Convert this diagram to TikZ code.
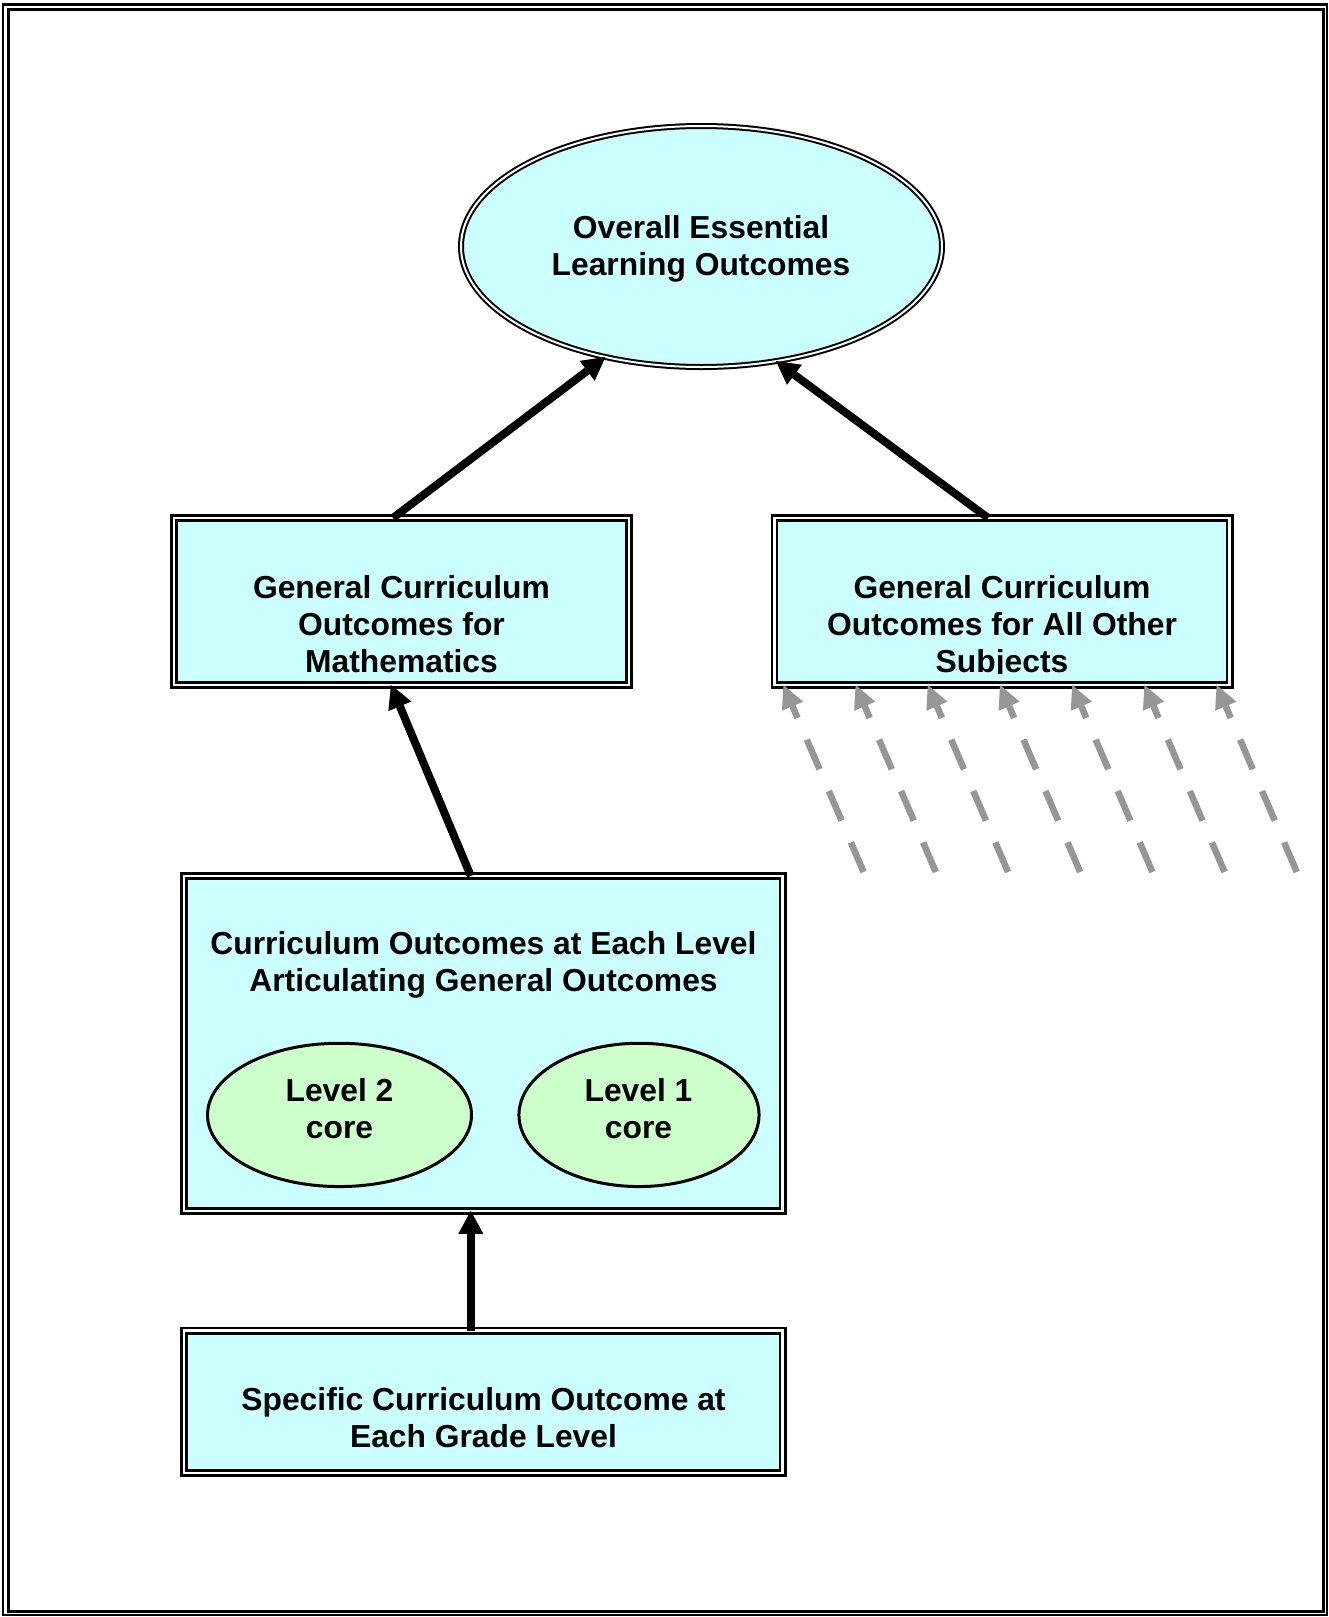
\documentclass[tikz,border=0pt]{standalone}
\usepackage{fontspec}
\setmainfont{Liberation Sans}
\usetikzlibrary{arrows.meta,shapes.geometric}
\definecolor{boxcyan}{RGB}{204,255,255}
\definecolor{coregreen}{RGB}{204,255,204}
\definecolor{arrowgray}{RGB}{150,150,150}
\newcommand{\mklines}[1]{\begin{tabular}[t]{@{}c@{}}#1\end{tabular}}
\begin{document}
\begin{tikzpicture}[x=1pt,y=-1pt,
  dbox/.style={rectangle, draw=black, fill=boxcyan, line width=2.7pt,
    double=white, double distance=2.5pt, inner sep=0pt, outer sep=0pt},
  dell/.style={ellipse, draw=black, fill=boxcyan, line width=2pt,
    double=white, double distance=2pt, inner sep=0pt, outer sep=0pt},
  coreell/.style={ellipse, draw=black, fill=coregreen, line width=3pt,
    inner sep=0pt, outer sep=0pt},
  txt/.style={font=\fontsize{31.8}{37}\selectfont\bfseries, inner sep=0pt,
    outer sep=0pt, anchor=base},
  blkarrow/.style={draw=black, line width=8pt,
    -{Triangle[width=25pt,length=23pt,line width=0pt]}},
  grayarrow/.style={draw=arrowgray, line width=6.5pt,
    dash pattern=on 32.2pt off 23.7pt,
    -{Triangle[width=23pt,length=23pt,line width=0pt]}},
  frameline/.style={draw=black}
]
\useasboundingbox (0,0) rectangle (1329,1617);
\fill[white] (0,0) rectangle (1329,1617);
% outer frame
\draw[frameline, line width=2.2pt] (3,4.5) rectangle (1326.7,1615.2);
\draw[frameline, line width=3.2pt] (8.7,9.7) rectangle (1323.3,1611.7);

% main shapes
\node[dell, minimum width=481pt, minimum height=241pt] (ell) at (701.5,246.5) {};
\node[dbox, minimum width=455.1pt, minimum height=167.1pt] (math) at (401.5,601.5) {};
\node[dbox, minimum width=455.1pt, minimum height=167.1pt] (other) at (1002,601.5) {};
\node[dbox, minimum width=598.7pt, minimum height=334.8pt] (mid) at (483.3,1043.35) {};
\node[dbox, minimum width=598.7pt, minimum height=142.1pt] (bot) at (483.3,1401.7) {};
\node[coreell, minimum width=264pt, minimum height=143.3pt] (lvltwo) at (339.5,1114.9) {};
\node[coreell, minimum width=240.1pt, minimum height=143.3pt] (lvlone) at (639,1114.9) {};

% texts
\node[txt] (elltext) at (701,238.3) {\mklines{Overall Essential\\Learning Outcomes}};
\node[txt] (mathtext) at (401.5,598.3) {\mklines{General Curriculum\\Outcomes for\\Mathematics}};
\begin{scope}
  \clip (other.north west) rectangle ([yshift=12pt]other.south east);
  \node[txt] (othertext) at (1002,598.3) {\mklines{General Curriculum\\Outcomes for All Other\\Subjects}};
\end{scope}
\node[txt] (midtext) at (483.5,954.3) {\mklines{Curriculum Outcomes at Each Level\\Articulating General Outcomes}};
\node[txt] (lvltwotext) at (339.5,1101.7) {\mklines{Level 2\\core}};
\node[txt] (lvlonetext) at (638.5,1101.7) {\mklines{Level 1\\core}};
\node[txt] (bottext) at (483.5,1410) {\mklines{Specific Curriculum Outcome at\\Each Grade Level}};

% black arrows
\draw[blkarrow] ([xshift=-8.5pt]math.north) -- (ell.229);
\draw[blkarrow] ([xshift=-14pt]other.north) -- (ell.303);
\draw[blkarrow] ([xshift=-12.5pt]mid.north) -- ([xshift=-10.5pt]math.south);
\draw[blkarrow] ([xshift=-12.5pt]bot.north) -- ([xshift=-12.5pt]mid.south);

% gray dashed arrows
\foreach \i in {0,...,6} {
  \pgfmathsetmacro{\gx}{863.6+72.2*\i}
  \pgfmathsetmacro{\tx}{9.0+72.2*\i}
  \coordinate (g\i) at (\gx,872);
  \draw[grayarrow] (g\i) -- ([xshift=\tx pt]other.south west);
}
\end{tikzpicture}
\end{document}
